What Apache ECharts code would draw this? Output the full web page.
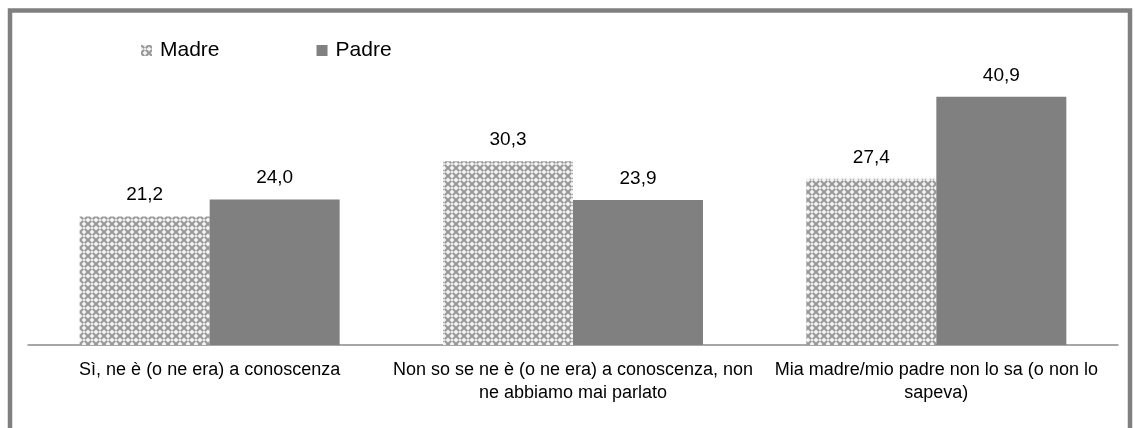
<!DOCTYPE html>
<html>
<head>
<meta charset="utf-8">
<script src="https://cdn.jsdelivr.net/npm/echarts@6/dist/echarts.min.js"></script>
<style>
html,body{margin:0;padding:0;background:#fff;}
#c{width:1135px;height:428px;}
</style>
</head>
<body>
<div id="c"></div>
<script>
var categories = [
  "Sì, ne è (o ne era) a conoscenza",
  "Non so se ne è (o ne era) a conoscenza, non\nne abbiamo mai parlato",
  "Mia madre/mio padre non lo sa (o non lo\nsapeva)"
];
var seriesNames = ["Madre", "Padre"];
var madre = [21.2, 30.3, 27.4];
var padre = [24.0, 23.9, 40.9];

function makePattern() {
  var c = document.createElement('canvas');
  c.width = 8; c.height = 8;
  var g = c.getContext('2d');
  g.fillStyle = '#f4f4f4';
  g.fillRect(0, 0, 8, 8);
  g.strokeStyle = '#999999';
  g.lineWidth = 2.2;
  g.beginPath();
  g.moveTo(0, 0); g.lineTo(8, 8);
  g.moveTo(8, 0); g.lineTo(0, 8);
  g.moveTo(-4, 4); g.lineTo(4, -4);
  g.moveTo(4, 12); g.lineTo(12, 4);
  g.moveTo(-4, 4); g.lineTo(4, 12);
  g.moveTo(4, -4); g.lineTo(12, 4);
  g.stroke();
  g.fillStyle = '#ffffff';
  g.fillRect(3.5, 2.5, 1, 3);
  g.fillRect(2.5, 3.5, 3, 1);
  return c;
}

var FONT = "'Liberation Sans', Arial, sans-serif";
var valueFmt = function (p) { return p.value.toFixed(1).replace('.', ','); };
var chart = echarts.init(document.getElementById('c'), null, {renderer: 'canvas'});
chart.setOption({
  animation: false,
  backgroundColor: '#ffffff',
  graphic: [{
    type: 'rect',
    shape: {x: 10, y: 10.5, width: 1120, height: 500},
    style: {fill: 'none', stroke: '#808080', lineWidth: 4.5},
    z: 100
  }],
  legend: {
    left: 136,
    top: 35,
    icon: 'rect',
    itemWidth: 11,
    itemHeight: 11,
    itemGap: 97,
    textStyle: {fontFamily: FONT, fontSize: 21, color: '#000', padding: [0, 0, 0, 3]},
    data: seriesNames
  },
  grid: {left: 28, right: 17, top: 72, bottom: 83},
  xAxis: {
    type: 'category',
    data: categories,
    axisLine: {lineStyle: {color: '#8a8a8a', width: 1.5}},
    axisTick: {show: false},
    axisLabel: {
      fontFamily: FONT, fontSize: 18, color: '#000', lineHeight: 23,
      margin: 14, interval: 0, align: 'center'
    }
  },
  yAxis: {
    type: 'value', min: 0, max: 45, show: false,
    splitLine: {show: false}
  },
  series: [
    {
      name: seriesNames[0], type: 'bar', data: madre,
      barWidth: 130, barGap: '0%',
      itemStyle: {color: {image: makePattern(), repeat: 'repeat'}},
      label: {
        show: true, position: 'top', distance: 12,
        fontFamily: FONT, fontSize: 19, color: '#000', formatter: valueFmt
      }
    },
    {
      name: seriesNames[1], type: 'bar', data: padre,
      barWidth: 130, barGap: '0%',
      itemStyle: {color: '#808080'},
      label: {
        show: true, position: 'top', distance: 12,
        fontFamily: FONT, fontSize: 19, color: '#000', formatter: valueFmt
      }
    }
  ]
});
</script>
</body>
</html>
